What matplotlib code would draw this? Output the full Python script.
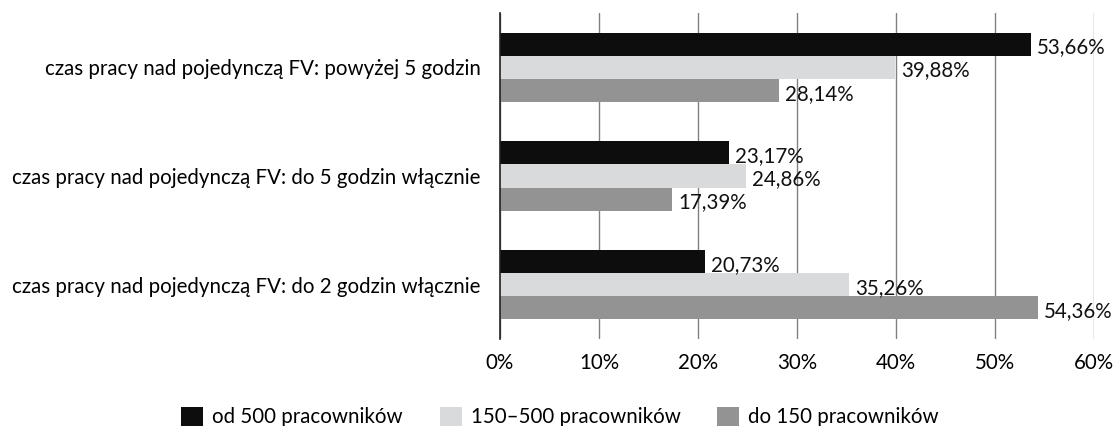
import matplotlib
matplotlib.use("Agg")
from matplotlib import pyplot as plt
from matplotlib.patches import Patch

plt.rcParams['font.family'] = ['Lato', 'DejaVu Sans']

# dane
categories = [
    "czas pracy nad pojedynczą FV: powyżej 5 godzin",
    "czas pracy nad pojedynczą FV: do 5 godzin włącznie",
    "czas pracy nad pojedynczą FV: do 2 godzin włącznie",
]
series_names = ["od 500 pracowników", "150–500 pracowników", "do 150 pracowników"]
od_500 = [53.66, 23.17, 20.73]
od_150_do_500 = [39.88, 24.86, 35.26]
do_150 = [28.14, 17.39, 54.36]
x_ticks = [0, 10, 20, 30, 40, 50, 60]

colors = ["#0d0d0d", "#d9dadc", "#939393"]
series = [od_500, od_150_do_500, do_150]
fs = 14.8

fig = plt.figure(figsize=(11.2, 4.26), dpi=100)
ax = fig.add_axes([500 / 1120, 87 / 426, 594 / 1120, 326 / 426])

# słupki + etykiety wartości
h = 0.212
for k, (vals, col) in enumerate(zip(series, colors)):
    pos = [i + (k - 1) * h for i in range(len(categories))]
    ax.barh(pos, vals, height=h, color=col, zorder=3)
    for p, v in zip(pos, vals):
        ax.text(v + 0.6, p + 0.03, f"{v:.2f}%".replace(".", ","), va="center",
                ha="left", fontsize=fs, color="#111111", zorder=4)

ax.set_ylim(2.5, -0.5)
ax.set_xlim(0, 60)
ax.set_xticks(x_ticks)
ax.set_xticklabels([f"{t}%" for t in x_ticks], fontsize=fs)
ax.set_yticks(range(len(categories)))
ax.set_yticklabels(categories, fontsize=fs)
ax.tick_params(axis="x", length=0, pad=10)
ax.tick_params(axis="y", length=0, pad=14)
ax.xaxis.grid(True, color="#808080", linewidth=1, zorder=0)
for s in ["top", "right", "bottom"]:
    ax.spines[s].set_visible(False)
ax.spines["left"].set_color("#222222")
ax.spines["left"].set_linewidth(1.2)
ax.spines["left"].set_zorder(5)

# legenda
handles = [Patch(facecolor=c, edgecolor="none") for c in colors]
fig.legend(handles, series_names, loc="center", bbox_to_anchor=(0.5, 9 / 426),
           ncol=3, frameon=False, fontsize=fs, handlelength=1.07, handleheight=1.07,
           handletextpad=0.44, columnspacing=1.8, borderpad=0)

plt.savefig("out.png", dpi=100)
